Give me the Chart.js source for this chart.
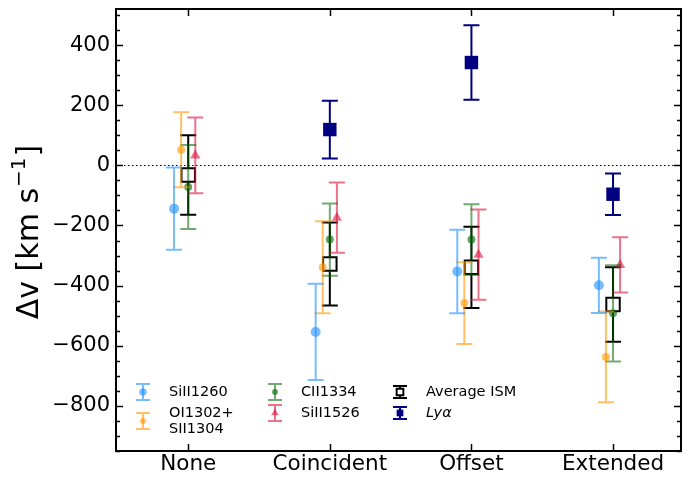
<!DOCTYPE html>
<html lang="en">
<head>
<meta charset="UTF-8" />
<title>Velocity offsets by Lya morphology</title>
<style>
  body { margin: 0; background: #fff; }
  canvas { display: block; }
</style>
</head>
<body>
<canvas id="chart" width="696" height="477"></canvas>
<script src="https://cdn.jsdelivr.net/npm/chart.js"></script>
<script>
  // categories on the x axis
  const categories = ['None', 'Coincident', 'Offset', 'Extended'];

  // velocity offsets (km/s) and 1-sigma errors
  const siII1260 = [-144, -554, -353, -399];
  const siII1260Err = [137, 160, 139, 92];
  const oI1302 = [52, -339, -458, -637];
  const oI1302Err = [125, 153, 136, 151];
  const cII1334 = [-72, -247, -247, -492];
  const cII1334Err = [140, 120, 118, 160];
  const siII1526 = [33, -174, -297, -331];
  const siII1526Err = [126, 117, 150, 92];
  const avgISM = [-32, -328, -339, -463];
  const avgISMErr = [132, 138, 135, 124];
  const lya = [null, 119, 342, -96];
  const lyaErr = [null, 96, 124, 69];

  const yTicks = [-800, -600, -400, -200, 0, 200, 400];

  const FONT = "'DejaVu Sans', sans-serif";
  const PLOT_TOP = 9;

  // series look (off = small horizontal dodge within a category)
  const series = [
    { label: 'SiII1260', vals: siII1260, errs: siII1260Err, color: 'rgba(30,144,255,0.6)', fill: 'rgba(30,144,255,0.6)', off: -0.1, style: 'circle', r: 5, lw: 2 },
    { label: 'OI1302+', label2: 'SII1304', vals: oI1302, errs: oI1302Err, color: 'rgba(255,150,0,0.6)', fill: 'rgba(255,150,0,0.6)', off: -0.05, style: 'circle', r: 4, lw: 2 },
    { label: 'CII1334', vals: cII1334, errs: cII1334Err, color: 'rgba(0,100,0,0.55)', fill: 'rgba(0,100,0,0.6)', off: 0, style: 'circle', r: 4, lw: 2 },
    { label: 'SiII1526', vals: siII1526, errs: siII1526Err, color: 'rgba(220,20,60,0.6)', fill: 'rgba(220,20,60,0.6)', off: 0.05, style: 'triangle', r: 6, lw: 2 },
    { label: 'Average ISM', vals: avgISM, errs: avgISMErr, color: '#000', fill: '#fff', off: 0, style: 'rect', r: 9.5, lw: 2 },
    { label: 'Lyα', italic: true, vals: lya, errs: lyaErr, color: '#000080', fill: '#000080', off: 0, style: 'rect', r: 9.5, lw: 2 }
  ];

  const datasets = series.map(s => ({
    label: s.label,
    data: s.vals.map((v, i) => v === null ? null : { x: i + s.off, y: v, err: s.errs[i] }).filter(p => p),
    pointStyle: s.style,
    pointRadius: s.r,
    pointBorderWidth: s.fill === '#fff' ? 2 : 0,
    borderColor: s.color,
    backgroundColor: s.fill,
    showLine: false,
    errColor: s.color,
    errWidth: s.lw
  }));

  // pin the top of the plot box where the original has it
  const pinTop = {
    id: 'pinTop',
    afterLayout(chart) {
      const y = chart.scales.y;
      if (y.top !== PLOT_TOP) {
        y.top = PLOT_TOP;
        y.height = y.bottom - PLOT_TOP;
        chart.chartArea.top = PLOT_TOP;
        chart.chartArea.height = chart.chartArea.bottom - PLOT_TOP;
        y.configure();
      }
    }
  };

  // error bars under each dataset's markers
  const errorBars = {
    id: 'errorBars',
    beforeDatasetDraw(chart, args) {
      const ds = chart.data.datasets[args.index];
      const xs = chart.scales.x, ys = chart.scales.y;
      const ctx = chart.ctx;
      ctx.save();
      ctx.strokeStyle = ds.errColor;
      ctx.lineWidth = ds.errWidth;
      ds.data.forEach(p => {
        const px = xs.getPixelForValue(p.x);
        const top = ys.getPixelForValue(p.y + p.err);
        const bot = ys.getPixelForValue(p.y - p.err);
        ctx.beginPath();
        ctx.moveTo(px, top); ctx.lineTo(px, bot);
        ctx.moveTo(px - 8, top); ctx.lineTo(px + 8, top);
        ctx.moveTo(px - 8, bot); ctx.lineTo(px + 8, bot);
        ctx.stroke();
      });
      ctx.restore();
    }
  };

  // dotted zero line
  const zeroLine = {
    id: 'zeroLine',
    beforeDatasetsDraw(chart) {
      const { ctx, chartArea: a, scales: { y } } = chart;
      const py = Math.round(y.getPixelForValue(0)) + 0.5;
      ctx.save();
      ctx.strokeStyle = '#000';
      ctx.lineWidth = 1;
      ctx.setLineDash([1.5, 2.5]);
      ctx.beginPath();
      ctx.moveTo(a.left, py); ctx.lineTo(a.right, py);
      ctx.stroke();
      ctx.restore();
    }
  };

  function drawMarker(ctx, s, x, y, scale) {
    Chart.helpers.drawPoint(ctx, {
      pointStyle: s.style,
      radius: s.r * scale,
      borderWidth: s.fill === '#fff' ? 2 : 0
    }, x, y);
  }

  // frame, inward ticks, y label and legend
  const frame = {
    id: 'frame',
    afterDraw(chart) {
      const { ctx, chartArea: a, scales: { x, y } } = chart;
      ctx.save();
      ctx.strokeStyle = '#000';
      ctx.lineWidth = 1.5;
      ctx.beginPath();
      for (let v = -950; v <= 500; v += 50) {
        const py = Math.round(y.getPixelForValue(v)) + 0.5;
        const len = yTicks.includes(v) ? 7 : 4;
        ctx.moveTo(a.left, py); ctx.lineTo(a.left + len, py);
        ctx.moveTo(a.right, py); ctx.lineTo(a.right - len, py);
      }
      categories.forEach((c, i) => {
        const px = Math.round(x.getPixelForValue(i)) + 0.5;
        ctx.moveTo(px, a.top); ctx.lineTo(px, a.top + 7);
        ctx.moveTo(px, a.bottom); ctx.lineTo(px, a.bottom - 7);
      });
      ctx.stroke();
      ctx.lineWidth = 2;
      ctx.strokeRect(a.left, a.top, a.right - a.left, a.bottom - a.top);

      // y axis label with superscript
      ctx.fillStyle = '#000';
      ctx.translate(30, (a.top + a.bottom) / 2 + 3);
      ctx.rotate(-Math.PI / 2);
      ctx.textBaseline = 'middle';
      const big = '30px ' + FONT, small = '20px ' + FONT;
      const p1 = 'Δv [km s', p2 = '\u22121', p3 = ']';
      ctx.font = big; const w1 = ctx.measureText(p1).width, w3 = ctx.measureText(p3).width;
      ctx.font = small; const w2 = ctx.measureText(p2).width;
      let tx = -(w1 + w2 + w3) / 2;
      ctx.font = big; ctx.textAlign = 'left';
      ctx.fillText(p1, tx, 0); tx += w1;
      ctx.font = small; ctx.fillText(p2, tx + 1, -10); tx += w2 + 2;
      ctx.font = big; ctx.fillText(p3, tx, 0);
      ctx.restore();

      // legend
      const cols = [143, 275, 400];
      const rows = [392, 413];
      const slots = [[0, 0], [0, 1], [1, 0], [1, 1], [2, 0], [2, 1]];
      ctx.save();
      series.forEach((s, i) => {
        const [c, r] = slots[i];
        const mx = cols[c];
        let my = rows[r];
        if (s.label2) my = 421;
        const isSq = s.style === 'rect';
        const hh = isSq ? 6 : 8;
        ctx.strokeStyle = s.color;
        ctx.lineWidth = s.lw;
        ctx.beginPath();
        ctx.moveTo(mx, my - hh); ctx.lineTo(mx, my + hh);
        ctx.moveTo(mx - 7, my - hh); ctx.lineTo(mx + 7, my - hh);
        ctx.moveTo(mx - 7, my + hh); ctx.lineTo(mx + 7, my + hh);
        ctx.stroke();
        ctx.fillStyle = s.fill;
        drawMarker(ctx, s, mx, my, isSq ? 0.5 : 0.75);
        ctx.fillStyle = '#000';
        ctx.textAlign = 'left';
        ctx.textBaseline = 'middle';
        ctx.font = (s.italic ? 'italic ' : '') + '14.5px ' + FONT;
        const tx = mx + 26;
        ctx.fillText(s.label, tx, rows[r]);
        if (s.label2) ctx.fillText(s.label2, tx, rows[r] + 16.5);
      });
      ctx.restore();
    }
  };

  new Chart(document.getElementById('chart'), {
    type: 'scatter',
    data: { datasets },
    options: {
      responsive: false,
      devicePixelRatio: 1,
      animation: false,
      events: [],
      layout: { padding: { top: 9, right: 15, left: 0, bottom: 0 } },
      plugins: { legend: { display: false }, tooltip: { enabled: false } },
      scales: {
        x: {
          type: 'linear',
          min: -0.51,
          max: 3.48,
          grid: { display: false, drawTicks: false },
          border: { display: false },
          afterBuildTicks: s => { s.ticks = categories.map((c, i) => ({ value: i })); },
          afterFit: s => { s.height = 26; s.paddingLeft = 0; s.paddingRight = 0; },
          ticks: {
            autoSkip: false,
            maxRotation: 0,
            padding: 1,
            color: '#000',
            font: { family: FONT, size: 21.5 },
            callback: v => categories[v]
          }
        },
        y: {
          min: -950,
          max: 520,
          grid: { display: false, drawTicks: false },
          border: { display: false },
          afterBuildTicks: s => { s.ticks = yTicks.map(v => ({ value: v })); },
          afterFit: s => { s.width = 116; },
          ticks: {
            padding: 6,
            color: '#000',
            font: { family: FONT, size: 21 },
            callback: v => v < 0 ? '\u2212' + Math.abs(v) : String(v)
          }
        }
      }
    },
    plugins: [pinTop, zeroLine, errorBars, frame]
  });
</script>
</body>
</html>
